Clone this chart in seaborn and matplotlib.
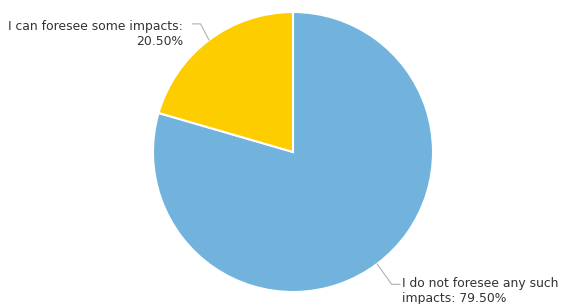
import numpy as np
import matplotlib
matplotlib.use("Agg")
import matplotlib.pyplot as plt
import seaborn as sns

labels = ["I do not foresee any such\nimpacts: 79.50%", "I can foresee some impacts:\n20.50%"]
values = [79.5, 20.5]
colors = ["#72B3DD", "#FDCD00"]

sns.set_style("white")
plt.rcParams['font.family'] = ['DejaVu Sans']

W, H = 561, 304
fig = plt.figure(figsize=(W / 100, H / 100), dpi=100)
cx, cy, r = 293, 152, 140
ax = fig.add_axes([(cx - r) / W, (H - cy - r) / H, 2 * r / W, 2 * r / H])
wedges, _ = ax.pie(values, colors=colors, startangle=90, counterclock=False,
                   radius=1.0, wedgeprops=dict(edgecolor="white", linewidth=1.5))
ax.set_xlim(-1, 1)
ax.set_ylim(-1, 1)
ax.set_aspect("equal")
ax.axis("off")

line_kw = dict(color="#B0B0B0", lw=0.8, clip_on=False)
fs = 8.9
# blue label (lower right)
w = wedges[0]
ang = np.deg2rad((w.theta1 + w.theta2) / 2)
x0, y0 = np.cos(ang), np.sin(ang)
ax.plot([x0, 0.705, 0.765], [y0, -0.945, -0.945], **line_kw)
ax.text(0.78, -0.995, labels[0], ha="left", va="center", fontsize=fs,
        color="#333333", linespacing=1.2, clip_on=False)

# yellow label (upper left)
w = wedges[1]
ang = np.deg2rad((w.theta1 + w.theta2) / 2)
x0, y0 = np.cos(ang), np.sin(ang)
ax.plot([x0, -0.66, -0.72], [y0, 0.915, 0.915], **line_kw)
ax.text(-0.785, 0.845, labels[1], ha="right", va="center", fontsize=fs,
        color="#333333", linespacing=1.2, multialignment="right", clip_on=False)

fig.savefig("out.png", dpi=100)
